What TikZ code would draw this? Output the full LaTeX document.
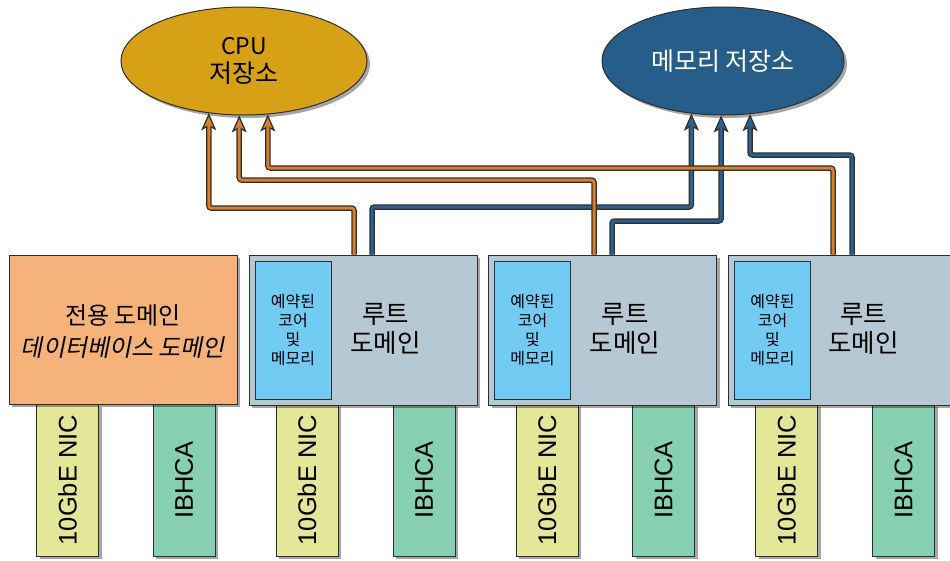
\documentclass[tikz,border=0pt]{standalone}
\usepackage{fontspec}
\usepackage{graphicx}
\newfontfamily\kr{Noto Sans CJK KR}
\newfontfamily\krit[FakeSlant=0.2]{Noto Sans CJK KR}
\newfontfamily\arl{Liberation Sans}
\usetikzlibrary{shapes.geometric,arrows.meta,shadows}
\definecolor{cpuC}{HTML}{D6A017}
\definecolor{memC}{HTML}{275E89}
\definecolor{oC}{HTML}{D6802A}
\definecolor{bC}{HTML}{2B6191}
\definecolor{dedC}{HTML}{F5B27A}
\definecolor{rootC}{HTML}{B5C8D3}
\definecolor{resC}{HTML}{71CBF3}
\definecolor{nicC}{HTML}{E3E698}
\definecolor{ibC}{HTML}{87CFB1}
\definecolor{lineK}{HTML}{2E2E2E}
\begin{document}
\begin{tikzpicture}[x=1pt,y=-1pt,
 shd/.style={drop shadow={shadow xshift=3pt,shadow yshift=-3pt,fill=black,opacity=0.35}},
 store/.style={ellipse, draw=lineK, line width=1pt, shd, inner sep=0pt, align=center,
   font=\kr\fontsize{25}{28}\selectfont},
 dombox/.style={rectangle, draw=lineK, line width=1pt, shd, inner sep=0pt,
   minimum width=228pt, minimum height=150pt},
 resbox/.style={rectangle, draw=lineK, line width=1pt, fill=resC, inner sep=0pt,
   minimum width=76pt, minimum height=138pt, align=center,
   font=\kr\fontsize{16}{19}\selectfont},
 roottxt/.style={align=center, inner sep=0pt, font=\kr\fontsize{25.5}{29}\selectfont},
 bar/.style={rectangle, draw=lineK, line width=1pt, shd, minimum width=62pt,
   minimum height=152pt, inner sep=0pt, font=\arl\fontsize{25.5}{30}\selectfont},
 conn/.style={draw=#1, line width=3pt, line join=round, rounded corners=2.5pt,
   shorten >=12pt,
   preaction={draw=lineK, line width=5.5pt, shorten >=0pt,
     -{Stealth[length=17pt,width=15pt,inset=4pt,fill=#1,line width=1.2pt]}}},
]
\useasboundingbox (0,0) rectangle (950,560);

% storage ellipses
\node[store, fill=cpuC, minimum width=246pt, minimum height=108pt] (cpu) at (244,61)
  {{\fontsize{23}{28}\selectfont CPU}\\저장소};
\node[store, fill=memC, text=white, minimum width=242pt, minimum height=108pt] (mem) at (723,61) {메모리 저장소};

% adapter bars
\node[bar, fill=nicC] (nic0) at (67.5,480) {\rotatebox{90}{10GbE NIC}};
\node[bar, fill=ibC]  (ib0)  at (184,480)  {\rotatebox{90}{IBHCA}};
\node[bar, fill=nicC] (nic1) at (307,480)  {\rotatebox{90}{10GbE NIC}};
\node[bar, fill=ibC]  (ib1)  at (424,480)  {\rotatebox{90}{IBHCA}};
\node[bar, fill=nicC] (nic2) at (547,480)  {\rotatebox{90}{10GbE NIC}};
\node[bar, fill=ibC]  (ib2)  at (663.5,480) {\rotatebox{90}{IBHCA}};
\node[bar, fill=nicC] (nic3) at (786.5,480) {\rotatebox{90}{10GbE NIC}};
\node[bar, fill=ibC]  (ib3)  at (903.5,480) {\rotatebox{90}{IBHCA}};

% domains
\node[dombox, fill=dedC, minimum height=149pt] (ded) at (123,329.5) {};
\node[align=center, inner sep=0pt, font=\kr\fontsize{24}{32}\selectfont] (dedt)
  at ([yshift=-2pt]ded.center) {전용 도메인\\{\krit 데이터베이스 도메인}};
\node[dombox, fill=rootC] (rd1) at (363,330) {};
\node[dombox, fill=rootC] (rd2) at (602.5,330) {};
\node[dombox, fill=rootC] (rd3) at (842,330) {};

\node[resbox] (rs1) at (293,330) {예약된\\코어\\및\\메모리};
\node[resbox] (rs2) at (532.5,330) {예약된\\코어\\및\\메모리};
\node[resbox] (rs3) at (772.5,330) {예약된\\코어\\및\\메모리};

\node[roottxt] (rt1) at ([xshift=137pt,yshift=1.5pt]rd1.west) {루트\\도메인};
\node[roottxt] (rt2) at ([xshift=137pt,yshift=1.5pt]rd2.west) {루트\\도메인};
\node[roottxt] (rt3) at ([xshift=136pt,yshift=1.5pt]rd3.west) {루트\\도메인};

% connectors: memory (blue) first, CPU (orange) on top
\draw[conn=bC] (372,0 |- rd1.north) -- (372,207) -| (mem.239.3);
\draw[conn=bC] (612,0 |- rd2.north) -- (612,221) -| (mem.268.9);
\draw[conn=bC] (852,0 |- rd3.north) -- (852,155) -| (mem.297.2);
\draw[conn=oC] (354,0 |- rd1.north) -- (354,208) -| (cpu.236.8);
\draw[conn=oC] (594,0 |- rd2.north) -- (594,180) -| (cpu.265.8);
\draw[conn=oC] (833,0 |- rd3.north) -- (833,168) -| (cpu.294.4);
\end{tikzpicture}
\end{document}
